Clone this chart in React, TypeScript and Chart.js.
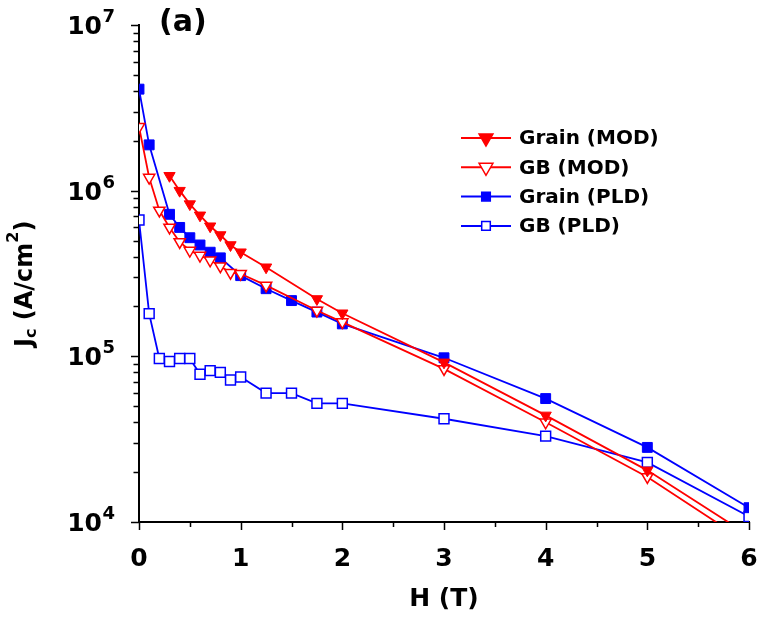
import React, { useEffect, useRef } from 'react';
import { Chart, registerables } from 'chart.js';

Chart.register(...registerables);

// ---- data (H in tesla, Jc in A/cm^2) ----
const H_GRAIN_MOD = [0.3, 0.4, 0.5, 0.6, 0.7, 0.8, 0.9, 1.0, 1.25, 1.75, 2, 3, 4, 5, 6];
const JC_GRAIN_MOD = [1.23e6, 1.0e6, 8.3e5, 7.1e5, 6.1e5, 5.4e5, 4.7e5, 4.25e5, 3.45e5, 2.22e5, 1.82e5, 9.2e4, 4.4e4, 2.05e4, 8.3e3];

const H_GB_MOD = [0, 0.1, 0.2, 0.3, 0.4, 0.5, 0.6, 0.7, 0.8, 0.9, 1.0, 1.25, 1.75, 2, 3, 4, 5, 6];
const JC_GB_MOD = [2.43e6, 1.2e6, 7.6e5, 6.0e5, 4.9e5, 4.35e5, 4.06e5, 3.8e5, 3.5e5, 3.2e5, 3.15e5, 2.68e5, 1.89e5, 1.61e5, 8.4e4, 4.0e4, 1.87e4, 7.4e3];

const H_GRAIN_PLD = [0, 0.1, 0.3, 0.4, 0.5, 0.6, 0.7, 0.8, 1.0, 1.25, 1.5, 1.75, 2, 3, 4, 5, 6];
const JC_GRAIN_PLD = [4.1e6, 1.89e6, 7.2e5, 6.0e5, 5.2e5, 4.7e5, 4.25e5, 3.93e5, 3.07e5, 2.56e5, 2.17e5, 1.85e5, 1.57e5, 9.8e4, 5.56e4, 2.82e4, 1.22e4];

const H_GB_PLD = [0, 0.1, 0.2, 0.3, 0.4, 0.5, 0.6, 0.7, 0.8, 0.9, 1.0, 1.25, 1.5, 1.75, 2, 3, 4, 5, 6];
const JC_GB_PLD = [6.65e5, 1.81e5, 9.7e4, 9.3e4, 9.7e4, 9.7e4, 7.8e4, 8.2e4, 8.0e4, 7.2e4, 7.5e4, 6.0e4, 6.0e4, 5.2e4, 5.2e4, 4.2e4, 3.3e4, 2.29e4, 1.08e4];

const SERIES_NAMES = ['Grain (MOD)', 'GB (MOD)', 'Grain (PLD)', 'GB (PLD)'];

const X_TICKS = [0, 1, 2, 3, 4, 5, 6];
const X_TICK_LABELS = ['0', '1', '2', '3', '4', '5', '6'];
const X_MINOR = [0.5, 1.5, 2.5, 3.5, 4.5, 5.5];
const Y_DECADES = [4, 5, 6, 7];
const Y_BASE_LABEL = '10';
const X_TITLE = 'H (T)';
const PANEL_LABEL = '(a)';

const RED = '#ff0000';
const BLUE = '#0000ff';
const FONT = 'DejaVu Sans';

const toPts = (xs: number[], ys: number[]) => xs.map((x, i) => ({ x, y: ys[i] }));

type LegendItem = { name: string; color: string; shape: 'tri' | 'rect'; filled: boolean };
const LEGEND: LegendItem[] = [
  { name: SERIES_NAMES[0], color: RED, shape: 'tri', filled: true },
  { name: SERIES_NAMES[1], color: RED, shape: 'tri', filled: false },
  { name: SERIES_NAMES[2], color: BLUE, shape: 'rect', filled: true },
  { name: SERIES_NAMES[3], color: BLUE, shape: 'rect', filled: false },
];

const decorPlugin = {
  id: 'decor',
  afterDraw(chart: any) {
    const ctx: CanvasRenderingContext2D = chart.ctx;
    const xs = chart.scales.x;
    const ys = chart.scales.y;
    const { left, bottom } = chart.chartArea;
    ctx.save();
    ctx.strokeStyle = '#000';
    ctx.fillStyle = '#000';
    ctx.lineWidth = 1.5;
    // x ticks
    ctx.beginPath();
    X_TICKS.forEach((v) => {
      const p = Math.round(xs.getPixelForValue(v)) + 0.5;
      ctx.moveTo(p, bottom);
      ctx.lineTo(p, bottom + 8);
    });
    X_MINOR.forEach((v) => {
      const p = Math.round(xs.getPixelForValue(v)) + 0.5;
      ctx.moveTo(p, bottom);
      ctx.lineTo(p, bottom + 5);
    });
    // y ticks
    Y_DECADES.forEach((d) => {
      const maxM = d === Y_DECADES[Y_DECADES.length - 1] ? 1 : 9;
      for (let m = 1; m <= maxM; m++) {
        const val = m * Math.pow(10, d);
        const p = Math.round(ys.getPixelForValue(val)) + 0.5;
        const len = m === 1 ? 8 : 5.5;
        ctx.moveTo(left, p);
        ctx.lineTo(left - len, p);
      }
    });
    ctx.stroke();

    // y tick labels 10^n
    Y_DECADES.forEach((d) => {
      const p = ys.getPixelForValue(Math.pow(10, d));
      ctx.font = `bold 25px "${FONT}"`;
      ctx.textAlign = 'right';
      ctx.textBaseline = 'alphabetic';
      ctx.fillText(Y_BASE_LABEL, 102, p + 9);
      ctx.font = `bold 18px "${FONT}"`;
      ctx.textAlign = 'left';
      ctx.fillText(String(d), 102.5, p - 3);
    });

    // y axis title  J_c (A/cm^2)
    ctx.save();
    ctx.translate(32, 347);
    ctx.rotate(-Math.PI / 2);
    ctx.textAlign = 'left';
    ctx.textBaseline = 'alphabetic';
    let cx = 0;
    const part = (t: string, size: number, dy: number) => {
      ctx.font = `bold ${size}px "${FONT}"`;
      ctx.fillText(t, cx, dy);
      cx += ctx.measureText(t).width;
    };
    part('J', 24, 0);
    part('c', 16, 4);
    part(' (A/cm', 24, 0);
    part('2', 16, -14);
    part(')', 24, 0);
    ctx.restore();

    // panel label
    ctx.font = `bold 30px "${FONT}"`;
    ctx.textAlign = 'left';
    ctx.textBaseline = 'middle';
    ctx.fillText(PANEL_LABEL, 159, 23);

    // legend
    LEGEND.forEach((it, i) => {
      const yy = 138 + i * 29.3;
      ctx.strokeStyle = it.color;
      ctx.lineWidth = 2;
      ctx.beginPath();
      ctx.moveTo(461, yy);
      ctx.lineTo(511, yy);
      ctx.stroke();
      const mx = 486;
      ctx.beginPath();
      if (it.shape === 'tri') {
        const r = 8;
        ctx.moveTo(mx, yy + r);
        ctx.lineTo(mx - r * Math.sin(Math.PI / 3), yy - r / 2);
        ctx.lineTo(mx + r * Math.sin(Math.PI / 3), yy - r / 2);
        ctx.closePath();
      } else {
        const s = 4.3;
        ctx.rect(mx - s, yy - s, 2 * s, 2 * s);
      }
      ctx.fillStyle = it.filled ? it.color : '#ffffff';
      ctx.fill();
      ctx.lineWidth = 1.5;
      ctx.stroke();
      ctx.fillStyle = '#000';
      ctx.font = `bold 20px "${FONT}"`;
      ctx.textAlign = 'left';
      ctx.textBaseline = 'middle';
      ctx.fillText(it.name, 519, yy + 1);
    });
    ctx.restore();
  },
};

export default function App() {
  const ref = useRef<HTMLCanvasElement | null>(null);
  useEffect(() => {
    if (!ref.current) return;
    Chart.defaults.font.family = FONT;
    Chart.defaults.color = '#000';
    const common = { borderWidth: 1.8, tension: 0, showLine: true };
    const chart = new Chart(ref.current, {
      type: 'line',
      data: {
        datasets: [
          {
            ...common,
            label: SERIES_NAMES[0],
            data: toPts(H_GRAIN_MOD, JC_GRAIN_MOD),
            borderColor: RED,
            backgroundColor: RED,
            pointStyle: 'triangle',
            rotation: 180,
            pointRadius: 6.5,
            pointBorderWidth: 1,
            pointBackgroundColor: RED,
            pointBorderColor: RED,
          },
          {
            ...common,
            label: SERIES_NAMES[1],
            data: toPts(H_GB_MOD, JC_GB_MOD),
            borderColor: RED,
            backgroundColor: '#ffffff',
            pointStyle: 'triangle',
            rotation: 180,
            pointRadius: 6.5,
            pointBorderWidth: 1.5,
            pointBackgroundColor: '#ffffff',
            pointBorderColor: RED,
          },
          {
            ...common,
            label: SERIES_NAMES[2],
            data: toPts(H_GRAIN_PLD, JC_GRAIN_PLD),
            borderColor: BLUE,
            backgroundColor: BLUE,
            pointStyle: 'rect',
            pointRadius: 7,
            pointBorderWidth: 1,
            pointBackgroundColor: BLUE,
            pointBorderColor: BLUE,
          },
          {
            ...common,
            label: SERIES_NAMES[3],
            data: toPts(H_GB_PLD, JC_GB_PLD),
            borderColor: BLUE,
            backgroundColor: '#ffffff',
            pointStyle: 'rect',
            pointRadius: 7,
            pointBorderWidth: 1.5,
            pointBackgroundColor: '#ffffff',
            pointBorderColor: BLUE,
          },
        ],
      },
      options: {
        responsive: false,
        animation: false,
        layout: { padding: { left: 0, top: 25, right: 11, bottom: 0 } },
        plugins: { legend: { display: false }, title: { display: false }, tooltip: { enabled: false } },
        scales: {
          x: {
            type: 'linear',
            min: 0,
            max: 6,
            grid: { display: false, drawTicks: false },
            border: { display: true, color: '#000', width: 2 },
            ticks: {
              stepSize: 1,
              autoSkip: false,
              maxRotation: 0,
              padding: 22,
              font: { family: FONT, size: 25, weight: 'bold' },
              color: '#000',
              callback: (_v: any, i: number) => X_TICK_LABELS[i],
            },
            title: {
              display: true,
              text: X_TITLE,
              font: { family: FONT, size: 25, weight: 'bold' },
              color: '#000',
              padding: { top: 0, bottom: 7 },
            },
            afterFit: (s: any) => {
              s.height = 99;
              s.paddingLeft = 0;
              s.paddingRight = 0;
            },
          },
          y: {
            type: 'logarithmic',
            min: 1e4,
            max: 1e7,
            grid: { display: false, drawTicks: false },
            border: { display: true, color: '#000', width: 2 },
            ticks: { display: false },
            afterFit: (s: any) => {
              s.width = 139;
              s.paddingTop = 0;
              s.paddingBottom = 0;
            },
          },
        },
      },
      plugins: [decorPlugin],
    } as any);
    return () => chart.destroy();
  }, []);
  return (
    <div style={{ position: 'absolute', left: 0, top: 0, width: 760, height: 621 }}>
      <canvas ref={ref} width={760} height={621} style={{ width: 760, height: 621, display: 'block' }} />
    </div>
  );
}
